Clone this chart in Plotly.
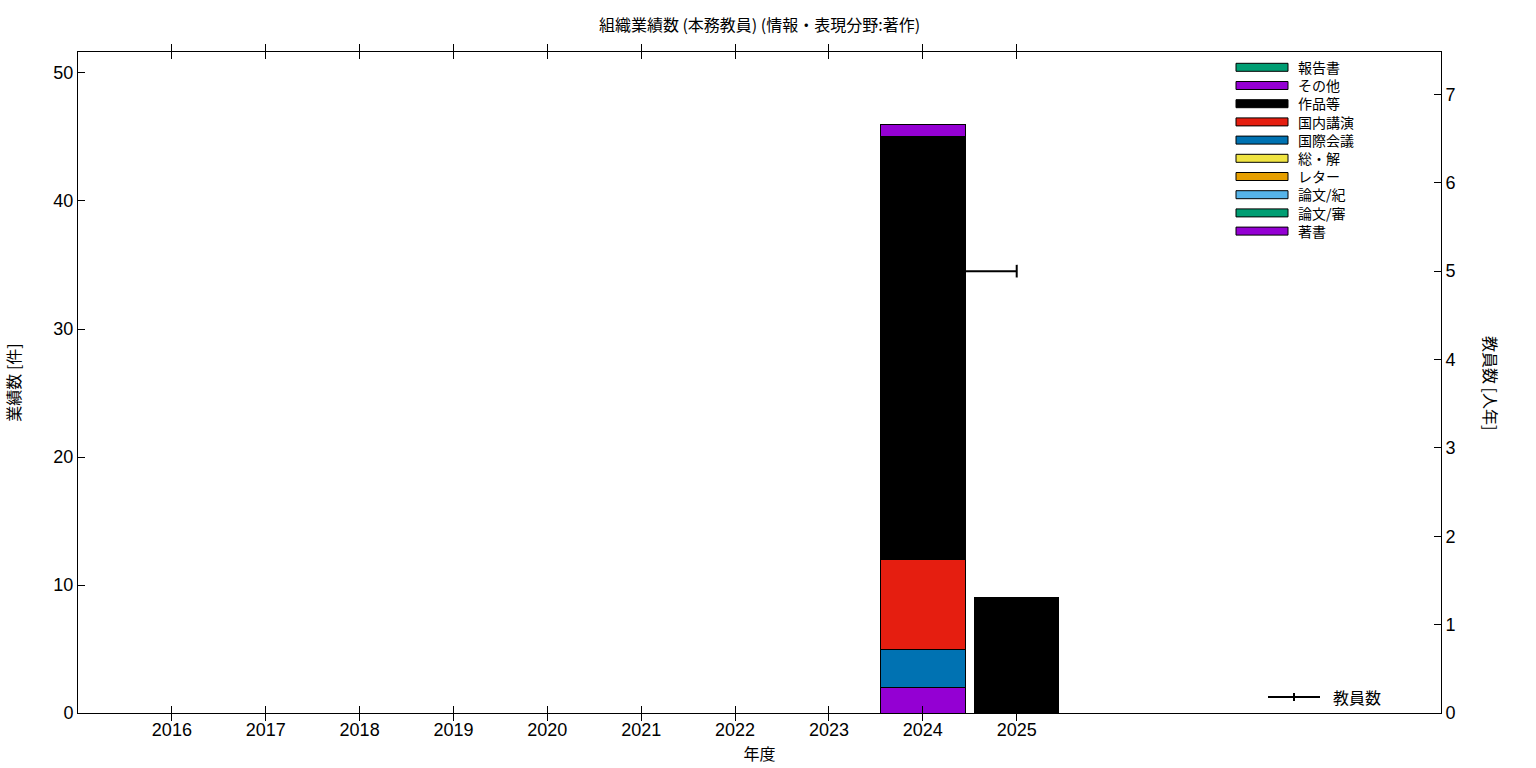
import plotly.graph_objects as go

years = [2016, 2017, 2018, 2019, 2020, 2021, 2022, 2023, 2024, 2025]

# stacked series (bottom -> top), None = no value
series_names = ["著書", "論文/審", "論文/紀", "レター", "総・解", "国際会議", "国内講演", "作品等", "その他", "報告書"]
series_colors = ["#9400d3", "#009e73", "#56b4e9", "#e69f00", "#f0e442", "#0072b2", "#e51e10", "#000000", "#9400d3", "#009e73"]
chosho   = [None, None, None, None, None, None, None, None, 2, None]
ronbun_s = [None] * 10
ronbun_k = [None] * 10
letter   = [None] * 10
sokai    = [None] * 10
kokusai  = [None, None, None, None, None, None, None, None, 3, None]
kokunai  = [None, None, None, None, None, None, None, None, 7, None]
sakuhin  = [None, None, None, None, None, None, None, None, 33, 9]
sonota   = [None, None, None, None, None, None, None, None, 1, None]
houkoku  = [None] * 10
series_values = [chosho, ronbun_s, ronbun_k, letter, sokai, kokusai, kokunai, sakuhin, sonota, houkoku]

# faculty count (right axis)
staff_years = [2024, 2025]
staff_count = [5, 5]

JP = "Noto Sans CJK JP"
NUM = "Liberation Sans"

# plot-area geometry in pixels (for legend placement)
PL, PR, PT, PB = 78, 1441, 52, 713
W, H = PR - PL, PB - PT


def px(xp):
    return (xp - PL) / W


def py(yp):
    return (PB - yp) / H


fig = go.Figure()

# line first (on base axis y, drawn beneath bars)
fig.add_trace(go.Scatter(
    x=staff_years, y=staff_count, name="教員数", mode="lines+markers",
    line=dict(color="black", width=2),
    marker=dict(symbol="line-ns", size=9, line=dict(color="black", width=2)),
    xaxis="x", yaxis="y", showlegend=False,
))

for name, color, vals in zip(series_names, series_colors, series_values):
    fig.add_trace(go.Bar(
        x=years, y=vals, name=name, width=0.9,
        marker=dict(color=color, line=dict(color="black", width=1)),
        xaxis="x", yaxis="y2", showlegend=False,
    ))

# legend keys (top to bottom = reversed stacking order), one multi-line label block
LEG_FONT = 14
S = 1.3 * LEG_FONT  # plotly line spacing
Y0 = 67.3
shapes = []
annotations = []
order = list(reversed(range(len(series_names))))
for i, k in enumerate(order):
    yc = Y0 + S * i
    shapes.append(dict(type="rect", xref="paper", yref="paper",
                       x0=px(1236), x1=px(1288), y0=py(yc + 4), y1=py(yc - 4),
                       fillcolor=series_colors[k], line=dict(color="black", width=1)))
annotations.append(dict(text="<br>".join(series_names[k] for k in order),
                        xref="paper", yref="paper", align="left",
                        x=px(1297), y=py(Y0 + S * 4.5), xanchor="left", yanchor="middle",
                        borderpad=0, showarrow=False,
                        font=dict(family=JP, size=LEG_FONT, color="black")))

# line legend key
shapes.append(dict(type="line", xref="paper", yref="paper",
                   x0=px(1268), x1=px(1320), y0=py(697), y1=py(697),
                   line=dict(color="black", width=2)))
shapes.append(dict(type="line", xref="paper", yref="paper",
                   x0=px(1294), x1=px(1294), y0=py(693), y1=py(701),
                   line=dict(color="black", width=2)))
annotations.append(dict(text="教員数", xref="paper", yref="paper",
                        x=px(1331), y=py(697), xanchor="left", yanchor="middle",
                        showarrow=False, font=dict(family=JP, size=16, color="black")))

# right axis title (reads top to bottom)
annotations.append(dict(text="教員数 [人年]", xref="paper", yref="paper",
                        x=px(1491), y=py(383), xanchor="center", yanchor="middle",
                        showarrow=False, textangle=90,
                        font=dict(family=JP, size=16, color="black")))

fig.update_layout(
    width=1536, height=768,
    barmode="stack",
    plot_bgcolor="white", paper_bgcolor="white",
    margin=dict(l=PL, r=1536 - PR, t=PT, b=768 - PB),
    title=dict(text="組織業績数 (本務教員) (情報・表現分野:著作)", x=0.5, xref="paper",
               y=1 - 25 / 768, yanchor="middle",
               font=dict(family=JP, size=16, color="black")),
    xaxis=dict(
        range=[2015.0, 2029.52], tickvals=years, ticktext=[str(y) for y in years],
        ticks="inside", ticklen=7, tickcolor="black", tickwidth=1,
        showline=True, linecolor="black", linewidth=1, mirror="allticks",
        showgrid=False, zeroline=False, automargin=False,
        tickfont=dict(family=NUM, size=18, color="black"),
        title=dict(text="年度", font=dict(family=JP, size=16, color="black"), standoff=10),
    ),
    yaxis=dict(
        side="right", range=[0, 7.48], tickvals=[0, 1, 2, 3, 4, 5, 6, 7],
        ticks="inside", ticklen=7, tickcolor="black",
        showline=True, linecolor="black", linewidth=1,
        showgrid=False, zeroline=False, automargin=False,
        tickfont=dict(family=NUM, size=18, color="black"),
    ),
    yaxis2=dict(
        side="left", overlaying="y", range=[0, 51.64], tickvals=[0, 10, 20, 30, 40, 50],
        ticks="inside", ticklen=7, tickcolor="black",
        showline=True, linecolor="black", linewidth=1,
        showgrid=False, zeroline=False, automargin=False,
        tickfont=dict(family=NUM, size=18, color="black"),
        title=dict(text="業績数 [件]", font=dict(family=JP, size=16, color="black"), standoff=28),
    ),
    showlegend=False,
    shapes=shapes,
    annotations=annotations,
)

fig.write_html("out.html", config={"displayModeBar": False},
               post_script="document.body.style.margin='0px';")
